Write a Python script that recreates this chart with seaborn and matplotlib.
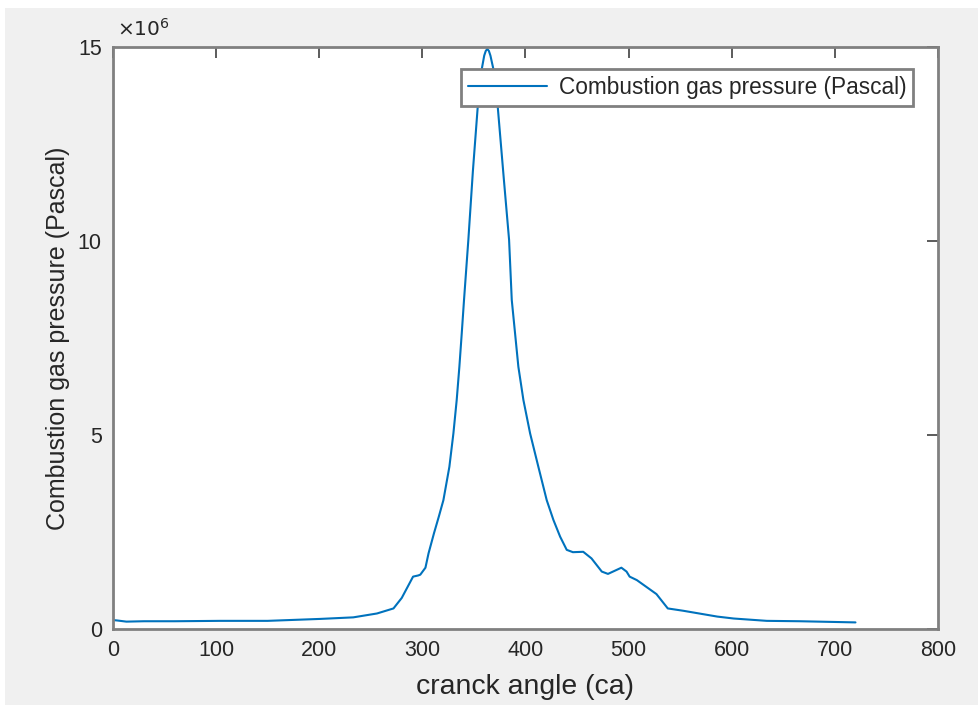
import matplotlib
matplotlib.use("Agg")
import matplotlib.pyplot as plt
import seaborn as sns
import pandas as pd
from matplotlib.patches import Rectangle

# crank angle (deg)
crank_angle = [0, 4, 13, 30, 60, 104, 150, 201, 233, 256, 272, 280, 291, 296, 298,
               303, 306, 311.3, 316, 320.4, 326.2, 330.1, 333.3, 335.9, 338.2,
               340.4, 344.6, 349, 353.7, 357.6, 360, 361.5, 363, 364.5, 366, 368.9,
               373.1, 379, 384.1, 386.7, 389.9, 393.1, 398, 404.5, 412.5, 420.6,
               427.1, 433.6, 440, 446, 456, 464, 474, 480, 493, 498, 501, 508, 527,
               538, 553, 586, 602, 634, 666, 720]
# pressure (x 1e6 Pa)
pressure_mpa = [0.23, 0.22, 0.19, 0.2, 0.2, 0.21, 0.21, 0.26, 0.3, 0.4, 0.53, 0.8,
                1.35, 1.38, 1.40, 1.58, 1.95, 2.47, 2.9, 3.32, 4.18, 5.04, 5.90,
                6.76, 7.62, 8.48, 10.03, 11.8, 13.46, 14.43, 14.78, 14.9, 14.95,
                14.9, 14.78, 14.43, 13.46, 11.6, 10.03, 8.48, 7.62, 6.76, 5.90,
                5.04, 4.18, 3.32, 2.81, 2.38, 2.04, 1.98, 1.99, 1.82, 1.48, 1.42,
                1.58, 1.48, 1.35, 1.26, 0.90, 0.53, 0.47, 0.32, 0.27, 0.21, 0.2,
                0.17]

x_ticks = [0, 100, 200, 300, 400, 500, 600, 700, 800]
y_ticks = [0, 5, 10, 15]
series_name = "Combustion gas pressure (Pascal)"

df = pd.DataFrame({"angle": crank_angle,
                   "pressure": [v * 1e6 for v in pressure_mpa],
                   "series": series_name})

sns.set_style("white")
plt.rcParams["font.family"] = ["Liberation Sans", "DejaVu Sans"]

fig = plt.figure(figsize=(9.79, 7.05), dpi=100)
fig.patch.set_facecolor("#f0f0f0")
# white strip of the surrounding document at the top/left
fig.patches.append(Rectangle((0, 0.989), 1, 0.011, transform=fig.transFigure,
                             facecolor="white", edgecolor="none", zorder=0))
fig.patches.append(Rectangle((0, 0), 0.005, 1, transform=fig.transFigure,
                             facecolor="white", edgecolor="none", zorder=0))

ax = fig.add_axes([0.1154, 0.1078, 0.8427, 0.8255])
ax.set_facecolor("white")

sns.lineplot(data=df, x="angle", y="pressure", hue="series",
             palette=["#0072BD"], linewidth=1.5, ax=ax, sort=False)

ax.set_xlim(0, 800)
ax.set_ylim(0, 15e6)
ax.set_xticks(x_ticks)
ax.set_xticklabels([str(t) for t in x_ticks])
ax.set_yticks([t * 1e6 for t in y_ticks])
ax.set_yticklabels([str(t) for t in y_ticks])

tick_color = "#262626"
ax.tick_params(axis="both", direction="in", length=8, width=1.2,
               colors="#404040", labelcolor=tick_color, labelsize=15.5,
               top=True, right=True, pad=8)
for s in ax.spines.values():
    s.set_visible(True)
    s.set_color("#808080")
    s.set_linewidth(2)

ax.set_xlabel("cranck angle (ca)", fontsize=20.4, color=tick_color, labelpad=9)
ax.set_ylabel("Combustion gas pressure (Pascal)", fontsize=18, color=tick_color,
              labelpad=6)

ax.text(0.005, 1.012, r"$\times10^{6}$", transform=ax.transAxes,
        fontsize=14.5, color=tick_color, ha="left", va="bottom",
        math_fontfamily="dejavusans")

leg = ax.legend(loc="upper right", bbox_to_anchor=(0.9697, 0.962), fontsize=16.3,
                frameon=True, fancybox=False, framealpha=1, edgecolor="#808080",
                handlelength=3.5, borderpad=0.3, handletextpad=0.5,
                borderaxespad=0)
leg.get_frame().set_linewidth(2)
for t in leg.get_texts():
    t.set_color(tick_color)

fig.savefig("out.png", dpi=100, facecolor=fig.get_facecolor())
